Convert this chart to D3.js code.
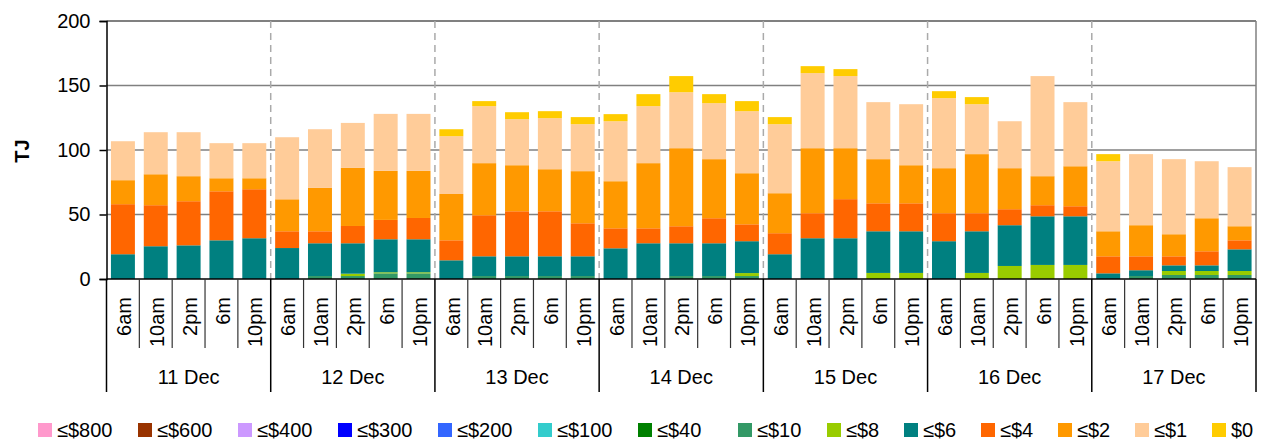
<!DOCTYPE html>
<html>
<head>
<meta charset="utf-8">
<script src="https://cdn.jsdelivr.net/npm/d3@7"></script>
<style>
  body { margin: 0; background: #fff; }
  text { font-family: "Liberation Sans", Arial, sans-serif; fill: #000; }
</style>
</head>
<body>
<div id="chart"></div>
<script>
// categories
const days = ["11 Dec", "12 Dec", "13 Dec", "14 Dec", "15 Dec", "16 Dec", "17 Dec"];
const hours = ["6am", "10am", "2pm", "6m", "10pm"];

// legend bands, bottom of stack first
const bands = ["≤$800", "≤$600", "≤$400", "≤$300", "≤$200", "≤$100", "≤$40",
               "≤$10", "≤$8", "≤$6", "≤$4", "≤$2", "≤$1", "$0"];
const bandColors = ["#ff99cc", "#993300", "#cc99ff", "#0000ff", "#3366ff", "#33cccc", "#008000",
                    "#339966", "#99cc00", "#008080", "#ff6600", "#ff9900", "#ffcc99", "#ffcc00"];

// TJ per band, 5 bars per day (bands not listed here are empty)
const le10 = [0, 0, 0, 0, 0,   0, 2.3, 2.3, 4.4, 4.4,   0, 2.3, 2.3, 2.3, 2.3,
              0, 0, 2.3, 2.3, 2.3,   0, 0, 0, 0, 0,   0, 0, 0, 0, 0,   0, 2.3, 3.1, 3.1, 3.1];
const le8  = [0, 0, 0, 0, 0,   0, 0, 1.8, 0.8, 0.8,   0, 0, 0, 0, 0,
              0, 0, 0, 0, 2.3,   0, 0, 0, 4.7, 4.7,   0, 4.7, 10.1, 10.9, 10.9,   0, 0, 3.1, 3.1, 3.1];
const le6  = [19.2, 25.4, 26.1, 30.0, 31.6,   24.0, 25.4, 23.6, 25.6, 25.6,   14.5, 15.3, 15.3, 15.3, 15.3,
              23.8, 27.7, 25.4, 25.4, 24.7,   19.2, 31.6, 31.6, 32.3, 32.3,   29.3, 32.3, 31.6, 37.7, 37.7,
              4.4, 4.5, 4.4, 4.4, 16.8];
const le4  = [38.8, 31.8, 34.2, 38.0, 38.0,   13.0, 9.3, 13.4, 15.0, 16.5,   15.5, 31.8, 34.9, 34.9, 25.6,
              15.5, 11.6, 13.2, 19.4, 13.1,   16.3, 19.4, 30.3, 21.7, 21.7,   21.7, 14.0, 12.4, 8.6, 7.8,
              13.2, 10.8, 7.0, 10.9, 7.0];
const le2  = [18.6, 24.0, 19.4, 10.1, 8.5,   24.8, 33.6, 45.0, 38.0, 36.5,   35.9, 40.4, 35.7, 32.6, 40.4,
              36.5, 50.5, 60.5, 45.8, 39.6,   31.0, 50.4, 39.5, 34.2, 29.5,   34.9, 45.8, 31.8, 22.5, 31.0,
              19.4, 24.1, 17.1, 25.6, 10.9];
const le1  = [30.2, 32.6, 34.1, 27.2, 27.2,   48.1, 45.5, 34.9, 44.2, 44.2,   44.8, 44.2, 35.7, 39.6, 36.4,
              46.5, 44.2, 43.4, 43.4, 48.1,   53.5, 58.2, 55.9, 44.2, 47.3,   54.3, 38.7, 36.4, 77.6, 49.7,
              54.3, 55.1, 58.2, 44.2, 45.8];
const zero = [0, 0, 0, 0, 0,   0, 0, 0, 0, 0,   5.4, 3.9, 5.4, 5.4, 5.5,
              5.5, 9.3, 12.5, 7.0, 7.8,   5.5, 5.4, 5.4, 0, 0,   5.4, 5.5, 0, 0, 0,   5.5, 0, 0, 0, 0];

const yTicks = [0, 50, 100, 150, 200];

const series = { "≤$10": le10, "≤$8": le8, "≤$6": le6, "≤$4": le4, "≤$2": le2, "≤$1": le1, "$0": zero };

// one row per bar
const rows = [];
days.forEach((day, di) => {
    hours.forEach((h, hi) => {
        const i = di * 5 + hi;
        const row = { id: day + "|" + h, day: day, hour: h };
        bands.forEach(b => { row[b] = series[b] ? series[b][i] : 0; });
        rows.push(row);
    });
});

const width = 1268, height = 444;
const plotL = 106.5, plotR = 1256, plotT = 21, plotB = 279;

const svg = d3.select("#chart").append("svg")
    .attr("width", width)
    .attr("height", height);

const x = d3.scaleBand()
    .domain(rows.map(d => d.id))
    .range([plotL, plotR])
    .paddingInner(0.27)
    .paddingOuter(0.135);

const xDay = d3.scaleBand()
    .domain(days)
    .range([plotL, plotR]);

const y = d3.scaleLinear()
    .domain([0, 200])
    .range([plotB, plotT]);

const color = d3.scaleOrdinal().domain(bands).range(bandColors);

// gridlines
svg.append("g")
    .selectAll("line")
    .data(yTicks.filter(t => t > 0))
    .enter()
    .append("line")
    .attr("x1", plotL).attr("x2", plotR)
    .attr("y1", d => y(d)).attr("y2", d => y(d))
    .attr("stroke", "#808080")
    .attr("stroke-width", d => d === 200 ? 2 : 1.5);

// right border of plot
svg.append("line")
    .attr("x1", plotR).attr("x2", plotR)
    .attr("y1", plotT).attr("y2", plotB)
    .attr("stroke", "#808080")
    .attr("stroke-width", 1.5);

// dashed day separators
svg.append("g")
    .selectAll("line")
    .data(days.slice(1))
    .enter()
    .append("line")
    .attr("x1", d => xDay(d)).attr("x2", d => xDay(d))
    .attr("y1", plotT).attr("y2", plotB)
    .attr("stroke", "#aaaaaa")
    .attr("stroke-width", 1.5)
    .attr("stroke-dasharray", "7,5");

// stacked bars
const stacked = d3.stack().keys(bands)(rows);

svg.append("g")
    .selectAll("g")
    .data(stacked)
    .enter()
    .append("g")
    .attr("fill", d => color(d.key))
    .selectAll("rect")
    .data(d => d.filter(s => s[1] - s[0] > 0))
    .enter()
    .append("rect")
    .attr("x", d => x(d.data.id))
    .attr("y", d => y(d[1]))
    .attr("width", x.bandwidth())
    .attr("height", d => y(d[0]) - y(d[1]));

// y axis
const yAxis = svg.append("g")
    .attr("transform", "translate(" + plotL + ",0)")
    .call(d3.axisLeft(y).tickValues(yTicks).tickSize(7).tickPadding(9));
yAxis.select(".domain").attr("stroke", "#000").attr("stroke-width", 1.5);
yAxis.selectAll(".tick line").attr("stroke", "#000").attr("stroke-width", 1.5);
yAxis.selectAll("text")
    .attr("font-size", 20)
    .attr("font-family", "Liberation Sans, Arial, sans-serif")
    .attr("fill", "#000");

svg.append("text")
    .attr("transform", "translate(22,151) rotate(-90)")
    .attr("text-anchor", "middle")
    .attr("dy", "0.35em")
    .attr("font-size", 20)
    .attr("font-weight", "bold")
    .text("TJ");

// category axis: base line, separators, labels
svg.append("line")
    .attr("x1", plotL).attr("x2", plotR)
    .attr("y1", plotB).attr("y2", plotB)
    .attr("stroke", "#000")
    .attr("stroke-width", 1.5);

const step = x.step();
const seps = d3.range(rows.length + 1);
svg.append("g")
    .selectAll("line")
    .data(seps)
    .enter()
    .append("line")
    .attr("x1", k => plotL + k * step).attr("x2", k => plotL + k * step)
    .attr("y1", plotB)
    .attr("y2", k => k % 5 === 0 ? 392 : 348)
    .attr("stroke", k => k % 5 === 0 ? "#000" : "#333")
    .attr("stroke-width", k => k % 5 === 0 ? 1.5 : 1.2);

svg.append("g")
    .selectAll("text")
    .data(rows)
    .enter()
    .append("text")
    .attr("transform", d => "translate(" + (x(d.id) + x.bandwidth() / 2 + 1) + ",297) rotate(-90)")
    .attr("text-anchor", "end")
    .attr("dy", "0.36em")
    .attr("font-size", 20)
    .text(d => d.hour);

svg.append("g")
    .selectAll("text")
    .data(days)
    .enter()
    .append("text")
    .attr("x", d => xDay(d) + xDay.bandwidth() / 2)
    .attr("y", 377)
    .attr("dy", "0.36em")
    .attr("text-anchor", "middle")
    .attr("font-size", 20)
    .text(d => d);

// legend
const legendX = [38, 138, 238, 338, 438, 538, 638, 738, 827, 904, 981, 1058, 1135, 1212];
const legend = svg.append("g")
    .selectAll("g")
    .data(bands)
    .enter()
    .append("g")
    .attr("transform", (d, i) => "translate(" + legendX[i] + ",423)");

legend.append("rect")
    .attr("width", 14)
    .attr("height", 14)
    .attr("fill", d => color(d));

legend.append("text")
    .attr("x", 19)
    .attr("y", 7)
    .attr("dy", "0.36em")
    .attr("font-size", 20)
    .text(d => d);
</script>
</body>
</html>
